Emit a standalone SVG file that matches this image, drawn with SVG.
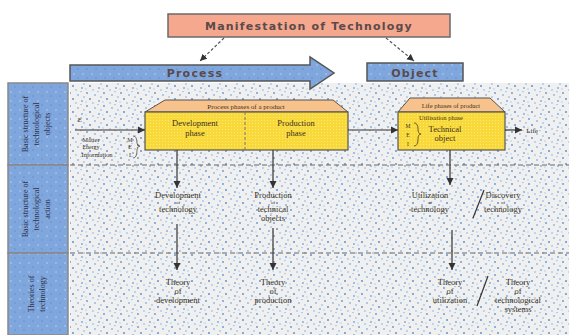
<svg xmlns="http://www.w3.org/2000/svg" width="569" height="335" viewBox="0 0 569 335">
<defs>
<pattern id="dots" width="17" height="13" patternUnits="userSpaceOnUse">
<rect width="17" height="13" fill="#f0f0f0"/>
<circle cx="2" cy="2" r="1" fill="#6f9fd6"/>
<circle cx="10" cy="4" r="0.9" fill="#8cb6e4"/>
<circle cx="5" cy="8" r="1" fill="#5f93d0"/>
<circle cx="14" cy="10" r="0.9" fill="#7aaadf"/>
<circle cx="13" cy="0.5" r="0.8" fill="#9cc0ea"/>
<circle cx="8" cy="12" r="0.8" fill="#88b0e0"/>
<circle cx="16" cy="6" r="0.7" fill="#6f9fd6"/>
<circle cx="1" cy="11" r="0.7" fill="#a0c4ec"/>
</pattern>
<pattern id="bluedots" width="9" height="9" patternUnits="userSpaceOnUse">
<rect width="9" height="9" fill="#7fa7de"/>
<circle cx="2" cy="2" r="0.8" fill="#b8d0f0"/>
<circle cx="6" cy="6" r="0.7" fill="#5f88c4"/>
</pattern>
<pattern id="yel" width="3" height="3" patternUnits="userSpaceOnUse">
<rect width="3" height="3" fill="#f9d93a"/>
<rect width="1" height="1" fill="#fde978"/>
</pattern>
<marker id="ah" markerWidth="8" markerHeight="8" refX="7" refY="4" orient="auto" markerUnits="userSpaceOnUse">
<path d="M0,0.5 L7,4 L0,7.5 Z" fill="#333"/>
</marker>
<style>
.t{font-family:"Liberation Serif","Times New Roman",serif;font-size:8.5px;fill:#3a3020;text-anchor:middle}
.s{font-family:"Liberation Serif","Times New Roman",serif;font-size:5px;fill:#3a3020;text-anchor:middle}
.lbl{font-family:"Liberation Serif","Times New Roman",serif;font-size:8px;fill:#303048;text-anchor:middle}
.hdr{font-family:"DejaVu Sans",sans-serif;font-weight:bold;font-size:11px;fill:#5a4a4a;letter-spacing:1.2px;text-anchor:middle}
.ln{stroke:#333;stroke-width:1.2;fill:none}
.dash{stroke:#666;stroke-width:1;stroke-dasharray:5,3;fill:none}
</style>
</defs>
<rect width="569" height="335" fill="#ffffff"/>
<rect x="70" y="83" width="499" height="252" fill="url(#dots)"/>

<g id="row-labels">
<rect x="8" y="83" width="60" height="82" fill="url(#bluedots)" stroke="#888" stroke-width="1.5"/>
<rect x="8" y="165" width="60" height="88" fill="url(#bluedots)" stroke="#888" stroke-width="1.5"/>
<rect x="8" y="253" width="60" height="82" fill="url(#bluedots)" stroke="#888" stroke-width="1.5"/>
<text class="lbl" transform="translate(38,124) rotate(-90)"><tspan x="0" y="-10">Basic structure of</tspan><tspan x="0" y="1">technological</tspan><tspan x="0" y="12">objects</tspan></text>
<text class="lbl" transform="translate(38,209) rotate(-90)"><tspan x="0" y="-10">Basic structure of</tspan><tspan x="0" y="1">technological</tspan><tspan x="0" y="12">action</tspan></text>
<text class="lbl" transform="translate(38,294) rotate(-90)"><tspan x="0" y="-4">Theories of</tspan><tspan x="0" y="7">technology</tspan></text>
</g>

<g id="separators">
<line class="dash" x1="70" y1="165" x2="569" y2="165"/>
<line class="dash" x1="70" y1="253" x2="569" y2="253"/>
</g>

<g id="title">
<rect x="168" y="14" width="282" height="23" fill="#f5a88e" stroke="#6a6a6a" stroke-width="1.5"/>
<text class="hdr" x="309" y="30">Manifestation of Technology</text>
</g>

<g id="process">
<path d="M70,65 L310,65 L310,57 L334,73 L310,89 L310,81 L70,81 Z" fill="url(#bluedots)" stroke="#555" stroke-width="1.5"/>
<text class="hdr" x="195" y="77">Process</text>
</g>

<g id="object">
<rect x="367" y="63" width="96" height="18" fill="url(#bluedots)" stroke="#555" stroke-width="1.5"/>
<text class="hdr" x="415" y="77">Object</text>
</g>

<g id="process-box">
<path d="M165,100 L333,100 L348,112 L145,112 Z" fill="#f8c28c" stroke="#555" stroke-width="1"/>
<rect x="145" y="112" width="203" height="38" fill="url(#yel)" stroke="#555" stroke-width="1.2"/>
<line x1="245" y1="112" x2="245" y2="150" stroke="#777" stroke-dasharray="3,2"/>
<text class="t" x="246" y="109" style="font-size:7px">Process phases of a product</text>
<text class="t" x="195" y="126">Development</text>
<text class="t" x="195" y="136">phase</text>
<text class="t" x="296" y="126">Production</text>
<text class="t" x="296" y="136">phase</text>
</g>

<g id="object-box">
<path d="M410,98 L490,98 L505,112 L398,112 Z" fill="#f8c28c" stroke="#555" stroke-width="1"/>
<rect x="398" y="112" width="107" height="38" fill="url(#yel)" stroke="#555" stroke-width="1.2"/>
<text class="t" x="451" y="108" style="font-size:6.5px">Life phases of product</text>
<text class="t" x="441" y="120" style="font-size:6.5px">Utilisation phase</text>
<text class="t" x="408" y="128" style="font-size:5.5px">M</text>
<text class="t" x="408" y="137" style="font-size:5.5px">E</text>
<text class="t" x="408" y="146" style="font-size:5.5px">I</text>
<path d="M414,123 Q418,123 418,129 Q418,134 421,134 Q418,134 418,139 Q418,146 414,146" stroke="#4a3a20" fill="none" stroke-width="0.8"/>
<text class="t" x="445" y="132">Technical</text>
<text class="t" x="445" y="141">object</text>
</g>

<g id="inputs">
<text class="s" x="80" y="122" style="font-size:7px">E</text>
<text class="s" x="91" y="142" style="font-size:6.5px">Matter</text>
<text class="s" x="91" y="149" style="font-size:6px">Energy</text>
<text class="s" x="97" y="157" style="font-size:6.5px">Information</text>
<text class="s" x="130" y="142" style="font-size:6px">M</text>
<text class="s" x="130" y="149" style="font-size:6px">E</text>
<text class="s" x="130" y="157" style="font-size:6px">I</text>
<path d="M133,136 Q137,136 137,143 Q137,146 140,146 Q137,146 137,150 Q137,158 133,158" stroke="#4a3a20" fill="none" stroke-width="0.7"/>
<text class="s" x="532" y="133" style="font-size:7px">Life</text>
</g>

<g id="row2">
<text class="t" x="178" y="198">Development</text>
<text class="s" x="178" y="204">of</text>
<text class="t" x="178" y="212">technology</text>
<text class="t" x="273" y="198">Production</text>
<text class="s" x="273" y="204">of</text>
<text class="t" x="273" y="212">technical</text>
<text class="t" x="273" y="221">objects</text>
<text class="t" x="430" y="198">Utilization</text>
<text class="s" x="430" y="204">of</text>
<text class="t" x="430" y="212">technology</text>
<text class="t" x="503" y="198">Discovery</text>
<text class="s" x="503" y="204">of</text>
<text class="t" x="503" y="212">technology</text>
</g>

<g id="row3">
<text class="t" x="178" y="285">Theory</text>
<text class="t" x="178" y="294">of</text>
<text class="t" x="178" y="303">development</text>
<text class="t" x="273" y="285">Theory</text>
<text class="t" x="273" y="294">of</text>
<text class="t" x="273" y="303">production</text>
<text class="t" x="450" y="285">Theory</text>
<text class="t" x="450" y="294">of</text>
<text class="t" x="450" y="303">utilization</text>
<text class="t" x="518" y="285">Theory</text>
<text class="t" x="518" y="294">of</text>
<text class="t" x="518" y="303">technological</text>
<text class="t" x="518" y="312">systems</text>
</g>

<g id="connectors">
<line x1="224" y1="38" x2="200" y2="61" stroke="#555" stroke-width="1.2" stroke-dasharray="3,2" marker-end="url(#ah)"/>
<line x1="386" y1="38" x2="414" y2="61" stroke="#555" stroke-width="1.2" stroke-dasharray="3,2" marker-end="url(#ah)"/>
<line class="ln" x1="75" y1="130" x2="145" y2="130" stroke="#777" marker-end="url(#ah)"/>
<line class="ln" x1="348" y1="130" x2="398" y2="130" marker-end="url(#ah)"/>
<line class="ln" x1="505" y1="130" x2="522" y2="130" marker-end="url(#ah)"/>
<line class="ln" x1="177" y1="150" x2="177" y2="188" marker-end="url(#ah)"/>
<line class="ln" x1="273" y1="150" x2="273" y2="188" marker-end="url(#ah)"/>
<line class="ln" x1="450" y1="150" x2="450" y2="185" marker-end="url(#ah)"/>
<line class="ln" x1="177" y1="224" x2="177" y2="270" marker-end="url(#ah)"/>
<line class="ln" x1="273" y1="228" x2="273" y2="270" marker-end="url(#ah)"/>
<line class="ln" x1="452" y1="230" x2="452" y2="270" marker-end="url(#ah)"/>
<line x1="484" y1="190" x2="473" y2="218" stroke="#333" stroke-width="1.2"/>
<line x1="488" y1="276" x2="477" y2="306" stroke="#333" stroke-width="1.2"/>
</g>
</svg>
